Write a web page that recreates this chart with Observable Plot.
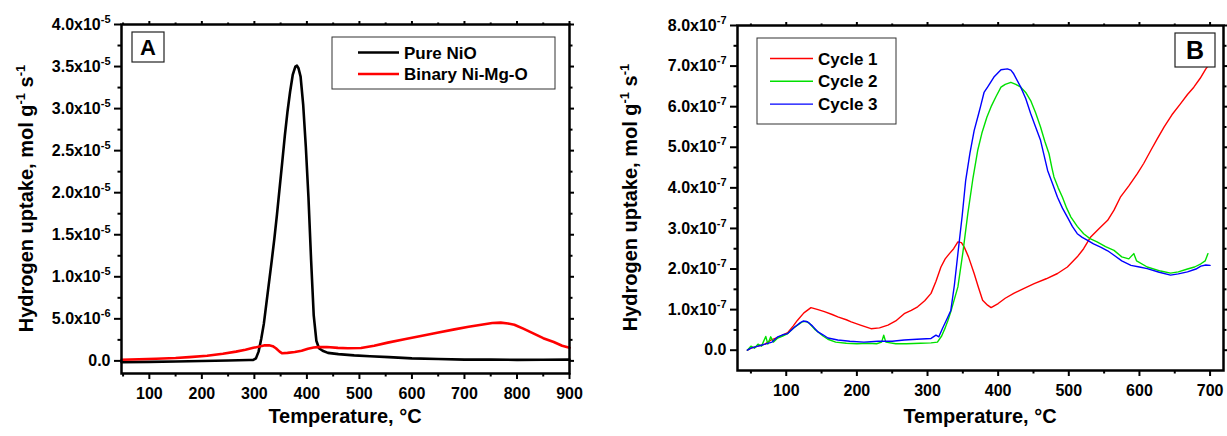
<!DOCTYPE html>
<html><head><meta charset="utf-8">
<script src="https://cdn.jsdelivr.net/npm/d3@7"></script>
<script src="https://cdn.jsdelivr.net/npm/@observablehq/plot@0.6"></script>
<style>
body{margin:0;background:#fff;}
#wrap{position:relative;width:1227px;height:436px;overflow:hidden;}
#a,#b{position:absolute;top:0;}
#a{left:0}#b{left:613px}
svg text{font-family:"Liberation Sans",Arial,sans-serif;}
</style></head><body><div id="wrap"><div id="a"></div><div id="b"></div></div>
<script>
// ---------- Panel A data: [temperature °C, uptake ×1e-6 mol g-1 s-1] ----------
const pureNiO = [[47,-0.15],[100,-0.12],[150,-0.08],[200,-0.02],[250,0.05],[290,0.1],[298,0.12],[303,0.3],[308,1.1],[313,2.6],
[318,4.4],[323,6.9],[328,9.4],[333,11.9],[338,14.5],[343,17.4],[348,20.5],[353,23.6],[358,26.8],[363,29.6],
[368,32.0],[373,34.0],[378,35.0],[381,35.1],[384,34.8],[388,33.8],[393,30.4],[398,25.4],[403,19.4],[408,12.0],
[413,5.4],[418,2.4],[423,1.5],[430,1.2],[440,0.95],[460,0.8],[490,0.65],[520,0.55],[556,0.45],[600,0.3],
[650,0.22],[700,0.15],[750,0.15],[800,0.12],[850,0.14],[900,0.15]];
const binaryNiMgO = [[47,0.14],[80,0.2],[113,0.26],[150,0.35],[176,0.45],[210,0.62],[240,0.85],[265,1.1],[283,1.33],[298,1.55],
[314,1.76],[320,1.85],[328,1.85],[335,1.75],[341,1.5],[348,1.1],[353,0.9],[363,0.95],[377,1.05],[390,1.2],
[402,1.45],[413,1.6],[421,1.64],[438,1.65],[459,1.55],[478,1.5],[503,1.53],[528,1.8],[554,2.17],[588,2.6],
[617,2.95],[648,3.35],[681,3.75],[708,4.05],[732,4.3],[753,4.5],[769,4.55],[783,4.45],[795,4.3],[813,3.8],
[832,3.24],[850,2.7],[870,2.24],[886,1.8],[900,1.57]];
const seriesNamesA = ["Pure NiO","Binary Ni-Mg-O"];
const seriesColorsA = ["#000000","#ff0000"];
const xTicksA = [100,200,300,400,500,600,700,800,900];
const xTickLabelsA = ["100","200","300","400","500","600","700","800","900"];
const xMinorA = [50,150,250,350,450,550,650,750,850];
const yTicksA = [0,5e-6,1e-5,1.5e-5,2e-5,2.5e-5,3e-5,3.5e-5,4e-5];
const yTickLabelsA = ["0.0","5.0x10^-6","1.0x10^-5","1.5x10^-5","2.0x10^-5","2.5x10^-5","3.0x10^-5","3.5x10^-5","4.0x10^-5"];
const yMinorA = [2.5e-6,7.5e-6,1.25e-5,1.75e-5,2.25e-5,2.75e-5,3.25e-5,3.75e-5];

// ---------- Panel B data: [temperature °C, uptake ×1e-7 mol g-1 s-1] ----------
const cycle1 = [[45,0.0],[50,0.05],[60,0.1],[70,0.15],[78,0.25],[90,0.33],[102,0.43],[110,0.6],[116,0.74],[125,0.92],
[135,1.05],[145,1.0],[154,0.95],[165,0.88],[173,0.82],[185,0.75],[192,0.7],[205,0.62],[220,0.53],[232,0.55],
[244,0.62],[255,0.72],[267,0.9],[277,0.98],[286,1.07],[296,1.22],[305,1.4],[312,1.7],[319,2.05],[325,2.25],
[331,2.38],[337,2.5],[343,2.67],[348,2.65],[352,2.54],[358,2.3],[366,1.89],[372,1.55],[378,1.23],[385,1.11],
[390,1.05],[400,1.15],[410,1.28],[422,1.4],[436,1.52],[451,1.64],[468,1.76],[484,1.89],[498,2.05],[512,2.3],
[521,2.5],[531,2.79],[543,3.0],[555,3.2],[564,3.45],[573,3.77],[585,4.05],[597,4.35],[606,4.6],[616,4.92],
[625,5.2],[635,5.5],[646,5.8],[658,6.07],[668,6.3],[677,6.48],[686,6.7],[694,6.93],[697,7.0]];
const cycle2 = [[45,0.0],[50,0.1],[55,0.05],[60,0.15],[65,0.1],[71,0.34],[74,0.15],[78,0.33],[82,0.2],[88,0.3],
[95,0.35],[102,0.41],[112,0.57],[123,0.7],[128,0.71],[133,0.66],[140,0.52],[145,0.45],[152,0.35],[159,0.27],
[170,0.2],[185,0.17],[200,0.16],[215,0.17],[228,0.16],[235,0.2],[238,0.37],[241,0.2],[255,0.16],[270,0.16],
[290,0.17],[305,0.18],[314,0.2],[320,0.35],[325,0.55],[329,0.74],[333,0.95],[343,1.56],[350,2.4],[357,3.36],
[364,4.2],[371,4.92],[377,5.35],[384,5.74],[390,6.0],[397,6.25],[404,6.48],[410,6.55],[418,6.6],[425,6.55],
[432,6.48],[439,6.35],[446,6.15],[453,5.85],[460,5.5],[466,5.15],[472,4.84],[476,4.5],[479,4.27],[485,4.0],
[491,3.77],[497,3.5],[503,3.28],[512,3.05],[521,2.87],[530,2.75],[540,2.67],[552,2.55],[564,2.46],[575,2.3],
[585,2.25],[592,2.38],[596,2.2],[611,2.05],[630,1.95],[644,1.9],[655,1.93],[668,2.0],[678,2.05],[687,2.13],
[693,2.2],[697,2.38]];
const cycle3 = [[45,0.0],[50,0.05],[60,0.1],[70,0.15],[80,0.2],[88,0.33],[95,0.38],[102,0.41],[112,0.57],[120,0.68],
[124,0.72],[130,0.7],[137,0.6],[145,0.45],[152,0.38],[159,0.3],[173,0.25],[190,0.22],[210,0.2],[230,0.22],
[250,0.22],[267,0.25],[285,0.27],[305,0.29],[312,0.37],[316,0.33],[321,0.53],[327,0.75],[333,0.98],[338,1.6],
[343,2.38],[349,3.3],[354,4.18],[360,4.85],[366,5.41],[372,5.8],[375,6.0],[380,6.35],[385,6.48],[394,6.73],
[404,6.91],[413,6.93],[418,6.9],[422,6.81],[432,6.48],[439,6.2],[446,5.83],[453,5.5],[460,5.17],[465,4.8],
[470,4.43],[477,4.1],[484,3.77],[491,3.5],[498,3.28],[505,3.05],[512,2.87],[519,2.78],[526,2.71],[535,2.62],
[545,2.54],[555,2.45],[564,2.34],[575,2.2],[588,2.09],[600,2.05],[611,2.01],[628,1.92],[644,1.85],[655,1.88],
[668,1.93],[680,2.0],[687,2.07],[694,2.1],[700,2.09]];
const seriesNamesB = ["Cycle 1","Cycle 2","Cycle 3"];
const seriesColorsB = ["#ff0000","#00e000","#0000ff"];
const xTicksB = [100,200,300,400,500,600,700];
const xTickLabelsB = ["100","200","300","400","500","600","700"];
const xMinorB = [50,150,250,350,450,550,650];
const yTicksB = [0,1e-7,2e-7,3e-7,4e-7,5e-7,6e-7,7e-7,8e-7];
const yTickLabelsB = ["0.0","1.0x10^-7","2.0x10^-7","3.0x10^-7","4.0x10^-7","5.0x10^-7","6.0x10^-7","7.0x10^-7","8.0x10^-7"];
const yMinorB = [0.5e-7,1.5e-7,2.5e-7,3.5e-7,4.5e-7,5.5e-7,6.5e-7,7.5e-7];

const NS = "http://www.w3.org/2000/svg";
const FONT = '"Liberation Sans", Arial, sans-serif';

function supify(svg) {
  svg.querySelectorAll("text").forEach(el => {
    const s = el.textContent;
    if (s && s.includes("^") && el.children.length === 0) {
      const [base, sup] = s.split("^");
      el.textContent = "";
      const t1 = document.createElementNS(NS, "tspan"); t1.textContent = base; el.appendChild(t1);
      const t2 = document.createElementNS(NS, "tspan");
      t2.setAttribute("dy", "-7"); t2.setAttribute("font-size", "11"); t2.textContent = sup;
      el.appendChild(t2);
    }
  });
}

function richText(sel, parts, supSize, rise) {
  parts.forEach(([str, sup], i) => {
    const t = sel.append("tspan").text(str);
    if (sup) { t.attr("font-size", supSize).attr("dy", -rise); }
    else if (i > 0 && parts[i-1][1]) { t.attr("dy", rise); }
  });
}

function panel(cfg) {
  const rows = [];
  cfg.series.forEach((s, k) => s.forEach(([t, v]) => rows.push({T: t, v: v * cfg.unit, name: cfg.names[k]})));
  const xLab = new Map(cfg.xTicks.map((t, i) => [t, cfg.xTickLabels[i]]));
  const yLab = new Map(cfg.yTicks.map((t, i) => [t, cfg.yTickLabels[i]]));
  const ax = {stroke: "black", strokeWidth: 2, label: null};
  const svg = Plot.plot({
    width: cfg.width, height: 436,
    marginLeft: cfg.ml, marginRight: cfg.mr, marginTop: cfg.mt, marginBottom: cfg.mb,
    style: {fontFamily: FONT, fontSize: "16px", fontWeight: "bold", color: "black", background: "white"},
    x: {domain: cfg.xDomain},
    y: {domain: cfg.yDomain},
    marks: [
      ...cfg.names.map((n, k) => Plot.line(rows.filter(r => r.name === n),
        {x: "T", y: "v", stroke: cfg.colors[k], strokeWidth: cfg.lw, strokeLinejoin: "round"})),
      Plot.axisX({ticks: cfg.xTicks, tickFormat: d => xLab.get(d), tickSize: 6, tickPadding: 8, ...ax}),
      Plot.axisX({ticks: cfg.xMinor, tickSize: 3.5, fill: "none", ...ax}),
      Plot.axisX({anchor: "top", ticks: cfg.xTicks, tickSize: 4, fill: "none", ...ax}),
      Plot.axisX({anchor: "top", ticks: cfg.xMinor, tickSize: 2.5, fill: "none", ...ax}),
      Plot.axisY({ticks: cfg.yTicks, tickFormat: d => yLab.get(d), tickSize: 7, tickPadding: 4, ...ax}),
      Plot.axisY({ticks: cfg.yMinor, tickSize: 3.5, fill: "none", ...ax}),
      Plot.axisY({anchor: "right", ticks: cfg.yTicks, tickSize: 4, fill: "none", ...ax}),
      Plot.axisY({anchor: "right", ticks: cfg.yMinor, tickSize: 2.5, fill: "none", ...ax}),
      Plot.frame({stroke: "black", strokeWidth: 2.5})
    ]
  });
  supify(svg);
  const g = d3.select(svg).append("g").attr("font-family", FONT).attr("font-weight", "bold").attr("fill", "black");
  const fx0 = cfg.ml, fx1 = cfg.width - cfg.mr, fy0 = cfg.mt, fy1 = 436 - cfg.mb;
  // x title
  g.append("text").attr("x", (fx0 + fx1) / 2).attr("y", 423).attr("text-anchor", "middle")
    .attr("font-size", 20).text("Temperature, °C");
  // y title
  const yt = g.append("text").attr("transform", `translate(${cfg.ytx + 7},${(fy0 + fy1) / 2}) rotate(-90)`)
    .attr("text-anchor", "middle").attr("font-size", 20);
  richText(yt, [["Hydrogen uptake, mol g", false], ["-1", true], [" s", false], ["-1", true]], 13, 8);
  // legend
  const L = cfg.legend;
  g.append("rect").attr("x", L.x).attr("y", L.y).attr("width", L.w).attr("height", L.h)
    .attr("fill", "white").attr("stroke", "#333").attr("stroke-width", 1);
  cfg.names.forEach((n, k) => {
    const yy = L.y + L.first + k * L.step;
    g.append("line").attr("x1", L.lx0).attr("x2", L.lx1).attr("y1", yy).attr("y2", yy)
      .attr("stroke", cfg.colors[k]).attr("stroke-width", L.lw);
    g.append("text").attr("x", L.tx).attr("y", yy + 6).attr("text-anchor", "start")
      .attr("font-size", 17).text(n);
  });
  // panel letter
  const P = cfg.letter;
  g.append("rect").attr("x", P.x).attr("y", P.y).attr("width", P.w).attr("height", P.h)
    .attr("fill", "white").attr("stroke", "#222").attr("stroke-width", 1.2);
  g.append("text").attr("x", P.x + P.w / 2).attr("y", P.y + P.h / 2 + P.fs * 0.36)
    .attr("text-anchor", "middle").attr("font-size", P.fs).text(P.text);
  return svg;
}

document.getElementById("a").appendChild(panel({
  width: 613, ml: 121, mr: 44, mt: 24, mb: 63, unit: 1e-6, lw: 2.6,
  series: [pureNiO, binaryNiMgO], names: seriesNamesA, colors: seriesColorsA,
  xDomain: [47, 900], yDomain: [-1.5e-6, 4.0e-5],
  xTicks: xTicksA, xTickLabels: xTickLabelsA, xMinor: xMinorA,
  yTicks: yTicksA, yTickLabels: yTickLabelsA, yMinor: yMinorA,
  ytx: 26,
  legend: {x: 332, y: 37, w: 223, h: 52, first: 15.5, step: 21.5, lx0: 358, lx1: 399, tx: 404, lw: 2.6},
  letter: {x: 132, y: 32, w: 32, h: 30, fs: 22, text: "A"}
}));
document.getElementById("b").appendChild(panel({
  width: 614, ml: 124, mr: 4, mt: 25, mb: 66, unit: 1e-7, lw: 1.4,
  series: [cycle1, cycle2, cycle3], names: seriesNamesB, colors: seriesColorsB,
  xDomain: [31, 719], yDomain: [-0.5e-7, 8e-7],
  xTicks: xTicksB, xTickLabels: xTickLabelsB, xMinor: xMinorB,
  yTicks: yTicksB, yTickLabels: yTickLabelsB, yMinor: yMinorB,
  ytx: 17,
  legend: {x: 144, y: 38, w: 139, h: 86, first: 20.5, step: 22.8, lx0: 157, lx1: 200, tx: 205, lw: 1.4},
  letter: {x: 562, y: 33, w: 40, h: 34, fs: 25, text: "B"}
}));
</script>
</body></html>
